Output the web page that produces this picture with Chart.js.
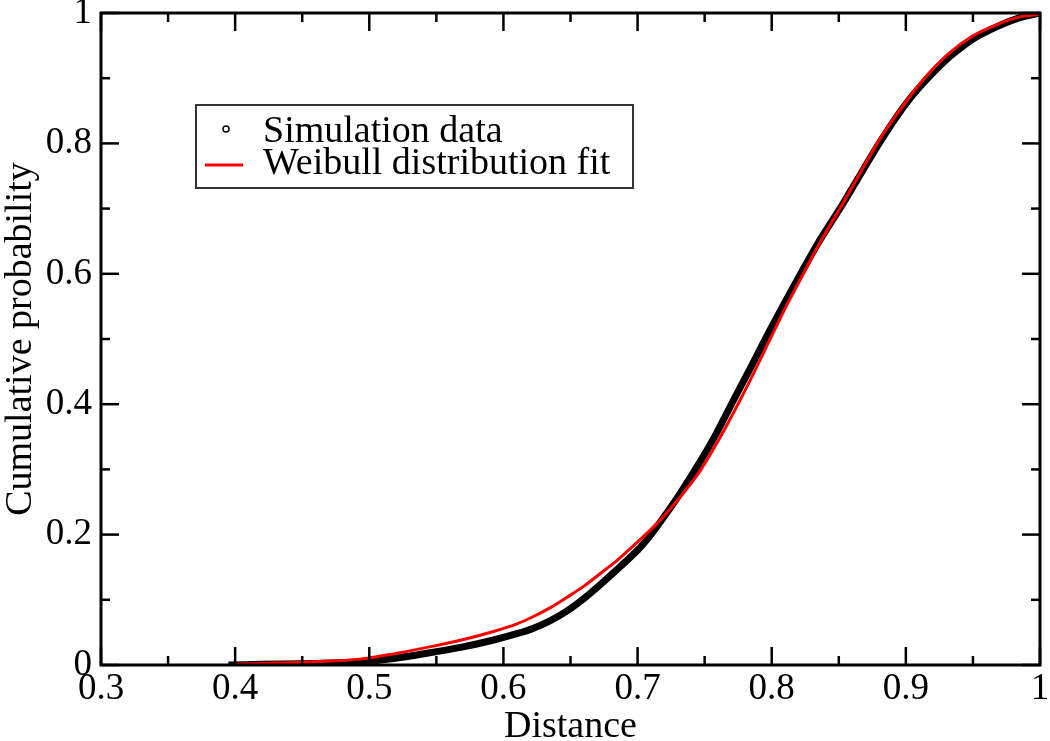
<!DOCTYPE html>
<html>
<head>
<meta charset="utf-8">
<script src="https://cdn.jsdelivr.net/npm/chart.js@4.4.0/dist/chart.umd.min.js"></script>
<style>
  html, body { margin: 0; padding: 0; background: #fff; }
  #graphique { width: 1050px; height: 741px; }
</style>
</head>
<body>
<div id="graphique"><canvas id="mon-canvas" width="1050" height="741"></canvas></div>
<script>
// Données (distance, probabilité cumulée)
const distanceSimulation = [0.395, 0.42, 0.45, 0.47, 0.493, 0.518, 0.543, 0.568, 0.592, 0.61, 0.622, 0.635, 0.6475, 0.66, 0.672, 0.685, 0.70, 0.71, 0.72, 0.732, 0.747, 0.759, 0.771, 0.784, 0.797, 0.809, 0.821, 0.836, 0.853, 0.866, 0.881, 0.898, 0.911, 0.931, 0.95, 0.97, 0.985, 1.0];
const probaSimulation = [0.0, 0.001, 0.002, 0.003, 0.005, 0.010, 0.018, 0.027, 0.038, 0.048, 0.056, 0.068, 0.083, 0.102, 0.123, 0.147, 0.176, 0.200, 0.228, 0.264, 0.313, 0.356, 0.404, 0.455, 0.507, 0.553, 0.598, 0.652, 0.707, 0.752, 0.803, 0.855, 0.888, 0.930, 0.960, 0.981, 0.993, 1.0];

const distanceWeibull = [0.40, 0.43, 0.46, 0.493, 0.518, 0.543, 0.568, 0.592, 0.61, 0.622, 0.635, 0.6475, 0.66, 0.672, 0.685, 0.697, 0.71, 0.722, 0.735, 0.747, 0.759, 0.771, 0.784, 0.797, 0.809, 0.821, 0.836, 0.853, 0.866, 0.881, 0.898, 0.911, 0.931, 0.95, 0.97, 0.985, 1.0];
const probaWeibull = [0.001, 0.003, 0.005, 0.009, 0.017, 0.027, 0.038, 0.051, 0.063, 0.074, 0.088, 0.104, 0.121, 0.140, 0.161, 0.183, 0.208, 0.234, 0.266, 0.299, 0.340, 0.385, 0.437, 0.492, 0.543, 0.590, 0.648, 0.708, 0.755, 0.808, 0.858, 0.893, 0.936, 0.965, 0.984, 0.994, 0.998];

// graduations
const xMajeurs = [0.3, 0.4, 0.5, 0.6, 0.7, 0.8, 0.9, 1];
const xMineurs = [0.35, 0.45, 0.55, 0.65, 0.75, 0.85, 0.95];
const yMajeurs = [0, 0.2, 0.4, 0.6, 0.8, 1];
const yMineurs = [0.1, 0.3, 0.5, 0.7, 0.9];

const police = 'Liberation Serif';

// cadre + graduations vers l'intérieur sur les 4 côtés
const cadre = {
  id: 'cadre',
  afterDatasetsDraw(chart) {
    const { ctx, chartArea } = chart;
    const sx = chart.scales.x;
    const sy = chart.scales.y;
    ctx.save();
    ctx.strokeStyle = '#000';
    ctx.lineWidth = 2.5;
    const trait = (x1, y1, x2, y2) => {
      ctx.beginPath();
      ctx.moveTo(x1, y1);
      ctx.lineTo(x2, y2);
      ctx.stroke();
    };
    const graduerX = (valeurs, l) => {
      valeurs.forEach((v) => {
        const px = sx.getPixelForValue(v);
        trait(px, chartArea.bottom, px, chartArea.bottom - l);
        trait(px, chartArea.top, px, chartArea.top + l);
      });
    };
    const graduerY = (valeurs, l) => {
      valeurs.forEach((v) => {
        const py = sy.getPixelForValue(v);
        trait(chartArea.left, py, chartArea.left + l, py);
        trait(chartArea.right, py, chartArea.right - l, py);
      });
    };
    graduerX(xMajeurs, 18);
    graduerX(xMineurs, 9);
    graduerY(yMajeurs, 18);
    graduerY(yMineurs, 9);
    ctx.lineWidth = 3;
    ctx.strokeRect(chartArea.left, chartArea.top, chartArea.right - chartArea.left, chartArea.bottom - chartArea.top);
    ctx.restore();
  },
};

// légende encadrée dans la zone du graphique
const legendeEncadree = {
  id: 'legendeEncadree',
  afterDraw(chart) {
    const { ctx } = chart;
    const ds = chart.data.datasets;
    ctx.save();
    ctx.strokeStyle = '#333';
    ctx.lineWidth = 2;
    ctx.strokeRect(196, 105, 437, 83);
    ctx.font = '38px "' + police + '"';
    ctx.fillStyle = '#000';
    ctx.textBaseline = 'alphabetic';
    ctx.textAlign = 'left';
    // simulation : petit cercle
    ctx.beginPath();
    ctx.arc(226, 129, 3, 0, Math.PI * 2);
    ctx.lineWidth = 1.5;
    ctx.strokeStyle = '#000';
    ctx.stroke();
    ctx.fillText(ds[1].label, 263, 142);
    // weibull : trait rouge
    ctx.beginPath();
    ctx.moveTo(205, 165);
    ctx.lineTo(243, 165);
    ctx.lineWidth = 3;
    ctx.strokeStyle = ds[0].borderColor;
    ctx.stroke();
    ctx.fillText(ds[0].label, 263, 174);
    ctx.restore();
  },
};

const config = {
  type: 'scatter',
  data: {
    datasets: [
      {
        label: 'Weibull distribution fit',
        data: distanceWeibull.map((d, i) => ({ x: d, y: probaWeibull[i] })),
        showLine: true,
        borderColor: '#ff0000',
        borderWidth: 3,
        pointRadius: 0,
        cubicInterpolationMode: 'monotone',
        fill: false,
      },
      {
        label: 'Simulation data',
        data: distanceSimulation.map((d, i) => ({ x: d, y: probaSimulation[i] })),
        showLine: true,
        borderColor: '#000',
        borderWidth: 7,
        pointRadius: 0,
        tension: 0.2,
        fill: false,
      },
    ],
  },
  options: {
    responsive: false,
    animation: false,
    devicePixelRatio: 1,
    layout: { padding: { left: 0, right: 10, top: 13, bottom: 0 } },
    plugins: {
      legend: { display: false },
      tooltip: { enabled: false },
    },
    scales: {
      x: {
        type: 'linear',
        min: 0.3,
        max: 1,
        afterBuildTicks: (scale) => { scale.ticks = xMajeurs.map((v) => ({ value: v })); },
        afterFit: (scale) => {
          scale.height = 76;
          scale.paddingLeft = 0;
          scale.paddingRight = 0;
        },
        grid: { display: false, drawTicks: false },
        border: { display: false },
        ticks: {
          padding: 2,
          maxRotation: 0,
          autoSkip: false,
          color: '#000',
          font: { family: police, size: 37 },
          callback: (v) => String(v),
        },
        title: {
          display: true,
          text: 'Distance',
          color: '#000',
          padding: 0,
          font: { family: police, size: 38, lineHeight: 0.75 },
        },
      },
      y: {
        type: 'linear',
        min: 0,
        max: 1,
        afterBuildTicks: (scale) => { scale.ticks = yMajeurs.map((v) => ({ value: v })); },
        afterFit: (scale) => {
          scale.width = 101;
          scale.paddingTop = 0;
          scale.paddingBottom = 0;
        },
        grid: { display: false, drawTicks: false },
        border: { display: false },
        ticks: {
          padding: 9,
          autoSkip: false,
          color: '#000',
          font: { family: police, size: 37 },
          callback: (v) => String(v),
        },
        title: {
          display: true,
          text: 'Cumulative probability',
          color: '#000',
          padding: 0,
          font: { family: police, size: 38, lineHeight: 1.1 },
        },
      },
    },
  },
  plugins: [cadre, legendeEncadree],
};

new Chart(document.getElementById('mon-canvas'), config);
</script>
</body>
</html>
